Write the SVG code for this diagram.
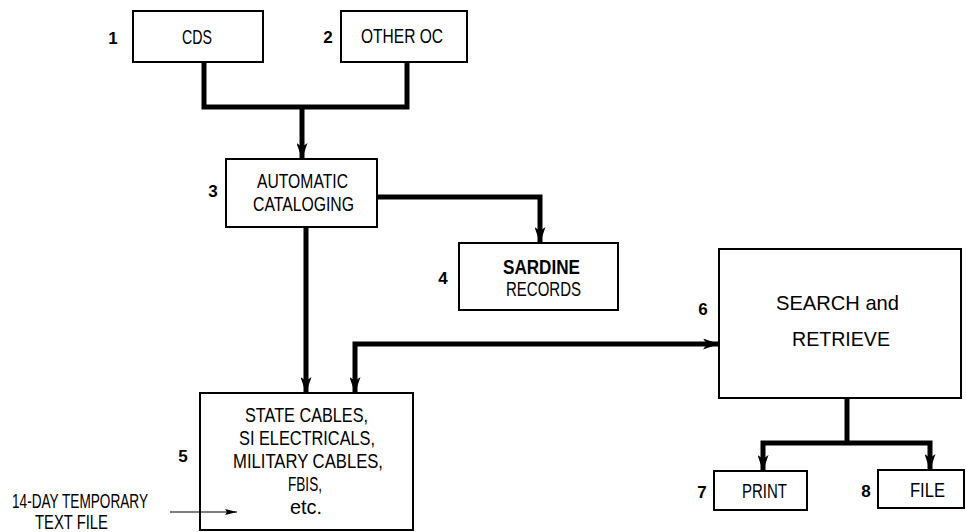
<svg xmlns="http://www.w3.org/2000/svg" width="966" height="532" viewBox="0 0 966 532">
<defs>
<style>
.box{fill:#fff;stroke:#000;stroke-width:2}
.t{font-family:"Liberation Sans",Arial,sans-serif;fill:#000;font-size:21px}
.n{font-family:"Liberation Sans",Arial,sans-serif;fill:#000;font-weight:bold;font-size:17px;text-anchor:middle}
.c{fill:none;stroke:#000;stroke-width:5}
.thin{fill:none;stroke:#000;stroke-width:1.2}
</style>
<marker id="ah" viewBox="0 0 16 11" refX="15" refY="5.5" markerWidth="16" markerHeight="11" markerUnits="userSpaceOnUse" orient="auto-start-reverse">
<path d="M0,0 L16,5.5 L0,11 L4,5.5 Z" fill="#000"/>
</marker>
<marker id="ahs" viewBox="0 0 12 6" refX="12" refY="3" markerWidth="12" markerHeight="6" markerUnits="userSpaceOnUse" orient="auto">
<path d="M0,0 L12,3 L0,6 L2,3 Z" fill="#000"/>
</marker>
</defs>
<rect width="966" height="532" fill="#fff"/>
<g id="n1">
<rect class="box" x="133" y="11" width="130" height="51"/>
<text class="t" x="182" y="44" textLength="30" lengthAdjust="spacingAndGlyphs">CDS</text>
<text class="n" x="113" y="44">1</text>
</g>
<g id="n2">
<rect class="box" x="341" y="11" width="126" height="51"/>
<text class="t" x="361" y="43" textLength="82" lengthAdjust="spacingAndGlyphs">OTHER OC</text>
<text class="n" x="328" y="43">2</text>
</g>
<g id="n3">
<rect class="box" x="226" y="159" width="151" height="68"/>
<text class="t" x="257" y="188" textLength="91" lengthAdjust="spacingAndGlyphs">AUTOMATIC</text>
<text class="t" x="253" y="211" textLength="101" lengthAdjust="spacingAndGlyphs">CATALOGING</text>
<text class="n" x="213" y="197">3</text>
</g>
<g id="n4">
<rect class="box" x="459" y="243" width="159" height="67"/>
<text class="t" x="503" y="274" font-weight="bold" textLength="77" lengthAdjust="spacingAndGlyphs">SARDINE</text>
<text class="t" x="506" y="296" textLength="75" lengthAdjust="spacingAndGlyphs">RECORDS</text>
<text class="n" x="443" y="284">4</text>
</g>
<g id="n5">
<rect class="box" x="200" y="393" width="213" height="137"/>
<text class="t" x="245" y="422" textLength="123" lengthAdjust="spacingAndGlyphs">STATE CABLES,</text>
<text class="t" x="239" y="445" textLength="136" lengthAdjust="spacingAndGlyphs">SI ELECTRICALS,</text>
<text class="t" x="233" y="468" textLength="150" lengthAdjust="spacingAndGlyphs">MILITARY CABLES,</text>
<text class="t" x="288" y="491" textLength="34" lengthAdjust="spacingAndGlyphs">FBIS,</text>
<text class="t" x="290" y="514" textLength="32" lengthAdjust="spacingAndGlyphs">etc.</text>
<text class="n" x="183" y="462">5</text>
</g>
<g id="n6">
<rect class="box" x="719" y="249" width="242" height="149"/>
<text class="t" x="776" y="310" font-size="24" textLength="123" lengthAdjust="spacingAndGlyphs">SEARCH and</text>
<text class="t" x="792" y="346" font-size="24" textLength="98" lengthAdjust="spacingAndGlyphs">RETRIEVE</text>
<text class="n" x="703" y="315">6</text>
</g>
<g id="n7">
<rect class="box" x="714" y="471" width="93" height="39"/>
<text class="t" x="742" y="498" textLength="45" lengthAdjust="spacingAndGlyphs">PRINT</text>
<text class="n" x="702" y="498">7</text>
</g>
<g id="n8">
<rect class="box" x="878" y="470" width="86" height="38"/>
<text class="t" x="910" y="497" textLength="35" lengthAdjust="spacingAndGlyphs">FILE</text>
<text class="n" x="866" y="497">8</text>
</g>
<g id="label">
<text class="t" x="12" y="508" font-size="17" textLength="136" lengthAdjust="spacingAndGlyphs">14-DAY TEMPORARY</text>
<text class="t" x="35" y="529" font-size="17" textLength="73" lengthAdjust="spacingAndGlyphs">TEXT FILE</text>
</g>
<g id="connectors">
<path class="c" d="M204,63 V107 H407 V63"/>
<path class="c" d="M302,107 V158" marker-end="url(#ah)"/>
<path class="c" d="M378,197 H540 V242" marker-end="url(#ah)"/>
<path class="c" d="M306,228 V392" marker-end="url(#ah)"/>
<path class="c" d="M355,392 V344 H718" marker-start="url(#ah)" marker-end="url(#ah)"/>
<path class="c" d="M847,399 V443"/>
<path class="c" d="M763,470 V443 H930 V469" marker-start="url(#ah)" marker-end="url(#ah)"/>
<path class="thin" d="M170,512 H237" marker-end="url(#ahs)"/>
</g>
</svg>
